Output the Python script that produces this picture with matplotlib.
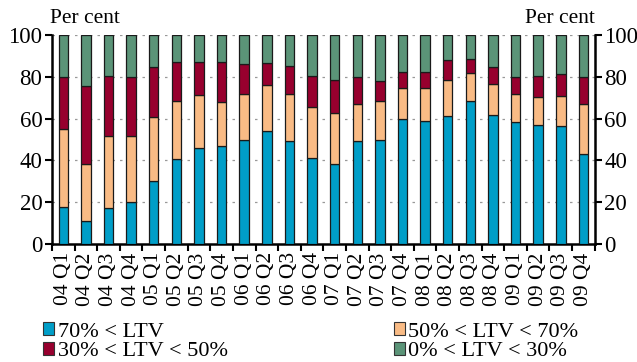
import matplotlib
matplotlib.use("Agg")
import matplotlib.pyplot as plt
import numpy as np
from matplotlib.patches import Patch

plt.rcParams["font.family"] = ["Liberation Serif", "DejaVu Serif"]

quarters = [f"{y:02d} Q{q}" for y in range(4, 10) for q in range(1, 5)]

# shares in per cent
ltv_above_70 = [17.7, 11.0, 17.2, 20.2, 30.1, 40.8, 45.9, 47.0, 49.8, 54.3, 49.2, 41.1,
                38.5, 49.2, 49.7, 60.0, 59.1, 61.1, 68.3, 61.9, 58.3, 57.2, 56.4, 43.2]
ltv_50_70 = [37.2, 27.4, 34.7, 31.7, 30.6, 27.5, 25.4, 20.8, 22.2, 21.8, 22.8, 24.3,
             24.1, 18.0, 18.6, 14.8, 15.4, 17.4, 13.5, 14.5, 13.4, 13.0, 14.5, 24.0]
ltv_30_50 = [24.9, 37.4, 28.4, 27.9, 23.9, 18.6, 15.6, 19.1, 14.1, 10.4, 13.4, 15.2,
             15.7, 12.6, 9.6, 7.5, 7.8, 9.4, 6.9, 8.2, 8.1, 10.4, 10.6, 12.6]
ltv_0_30 = [100 - a - b - c for a, b, c in zip(ltv_above_70, ltv_50_70, ltv_30_50)]

series = [
    ("70% < LTV", "#009ec8", ltv_above_70),
    ("50% < LTV < 70%", "#f9bb85", ltv_50_70),
    ("30% < LTV < 50%", "#97002e", ltv_30_50),
    ("0% < LTV < 30%", "#5b9478", ltv_0_30),
]

fig = plt.figure(figsize=(6.37, 3.62), dpi=100)
ax = fig.add_axes([0.0816, 0.326, 0.852, 0.577])

x = np.arange(len(quarters))
bottom = np.zeros(len(quarters))
for label, color, vals in series:
    ax.bar(x, vals, bottom=bottom, width=0.42, color=color,
           edgecolor="#1a1a1a", linewidth=0.9, zorder=3)
    bottom += np.array(vals)

ax.set_xlim(-0.5, len(quarters) - 0.5)
ax.set_ylim(0, 100)
ax.set_yticks(range(0, 101, 20))
ax.yaxis.grid(True, linestyle=(0, (2, 4)), color="#999999", linewidth=0.9, zorder=0)

ax.set_xticks(x)
ax.set_xticklabels(quarters, rotation=90, fontsize=15.5)
ax.set_xticks(np.arange(-0.5, len(quarters)), minor=True)
ax.tick_params(axis="x", which="major", length=0, pad=6)
ax.tick_params(axis="x", which="minor", length=5, width=1.5, direction="out")
ax.tick_params(axis="y", labelsize=16.5, length=5, width=1.5, direction="out",
               right=True, labelright=True, pad=2)

for side in ["left", "right", "bottom"]:
    ax.spines[side].set_linewidth(1.8)
ax.spines["top"].set_visible(False)

fig.text(0.078, 0.922, "Per cent", fontsize=15.5, ha="left", va="bottom")
fig.text(0.934, 0.922, "Per cent", fontsize=15.5, ha="right", va="bottom")

common = dict(frameon=False, fontsize=16, handlelength=0.5, handleheight=0.5,
              handletextpad=0.15, borderpad=0, borderaxespad=0)
# legend entries: (series index, x, y of entry centre in figure coords)
legend_spots = [(0, 0.068, 0.083), (2, 0.068, 0.028), (1, 0.618, 0.083), (3, 0.618, 0.028)]
for i, lx, ly in legend_spots:
    h = Patch(facecolor=series[i][1], edgecolor="#333333", linewidth=0.8, label=series[i][0])
    fig.legend(handles=[h], loc="center left", bbox_to_anchor=(lx, ly), **common)

fig.savefig("out.png", dpi=100)
